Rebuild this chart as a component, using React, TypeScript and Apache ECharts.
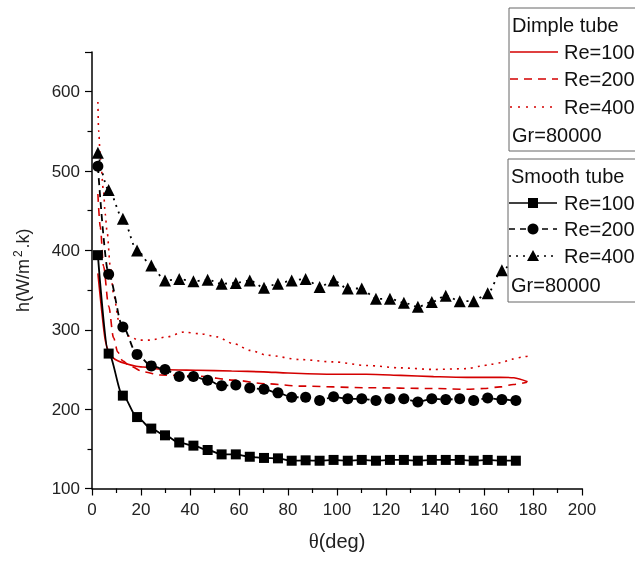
import React, { useEffect, useRef } from "react";
import * as echarts from "echarts";

// Smooth tube (black, with markers)
const thetaSmooth = [2.4, 6.8, 12.6, 18.4, 24.2, 29.8, 35.6, 41.4, 47.2, 52.9, 58.7, 64.4, 70.2, 75.9, 81.5, 87.2, 92.9, 98.6, 104.4, 110.1, 115.9, 121.6, 127.3, 133.0, 138.7, 144.4, 150.1, 155.8, 161.5, 167.3, 173.0];
const smooth100 = [394, 270, 217, 190, 175.5, 167, 158, 154, 148.5, 143, 143, 140, 138.5, 138, 135, 135.5, 135, 136, 135, 136, 135, 136, 136, 135, 136, 136, 136, 135, 136, 135, 135];
const smooth200 = [506, 370, 303.5, 269, 254.5, 250, 241, 241, 236.5, 229.5, 230.5, 226.5, 225, 220.5, 215, 215, 211, 215.5, 213, 213, 211, 213, 213, 209, 213, 212, 213, 211, 214, 212, 211];
const smooth400 = [523, 476, 440, 400, 381, 362, 364, 361, 363, 358, 359, 362, 353, 358, 362, 364, 354, 362, 352, 352, 339, 339, 334, 329, 335, 343, 336, 336, 346, 375, 392];

// Dimple tube (red, lines only)
const dimple100Theta = [2.4, 4.1, 5.4, 6.8, 8.5, 10.5, 13.6, 18, 21, 29, 43, 57, 70, 80, 98.6, 112, 126, 139.4, 153, 166.6, 172.2, 177.8];
const dimple100H = [371, 320, 287, 272, 265, 261, 257.5, 254, 253, 250, 249, 248, 247, 245.5, 244, 244, 242.5, 241, 240, 240, 239.5, 234.5];
const dimple200Theta = [2.4, 3.4, 4.7, 6.8, 8.8, 10.5, 12.5, 15.6, 21, 28, 44, 58, 71, 85, 112, 139, 153, 160, 166.6, 172, 177.5];
const dimple200H = [471, 429, 380, 330, 290, 272, 261, 254, 247, 243, 241.5, 236.5, 232, 229, 227, 226, 225, 226, 228, 231, 234];
const dimple400Theta = [2.4, 2.7, 3.4, 4.7, 5.4, 6.1, 7.5, 8.8, 10.9, 12.9, 15, 19, 23.8, 30.6, 37.4, 44.2, 51, 57.8, 64.6, 71.4, 85, 98.6, 112.2, 125.9, 139.4, 153, 158.5, 162.6, 166.9, 171.4, 176.2, 177.8];
const dimple400H = [587, 551, 517, 475, 446, 425, 379, 345, 312, 299, 292, 287, 287, 291, 297, 295, 291, 282.5, 274, 268, 262.5, 259.5, 255, 252, 250, 251, 254, 256.5, 258.5, 263, 266, 266.7];

const legendDimple = ["Re=100", "Re=200", "Re=400"];
const legendSmooth = ["Re=100", "Re=200", "Re=400"];

const RED = "#d40000";
const SANS = "'Liberation Sans', Arial, sans-serif";

const zip = (xs: number[], ys: number[]) => xs.map((x, i) => [x, ys[i]]);

export default function App() {
  const ref = useRef<HTMLDivElement>(null);
  useEffect(() => {
    if (!ref.current) return;
    const chart = echarts.init(ref.current, undefined, { renderer: "svg" });
    const lx = 509;
    const ltx = 564;
    const dRows = [52, 79, 107];
    const sRows = [203, 229, 256];
    const textStyle = (x: number, y: number, t: string) => ({
      type: "text",
      z: 101,
      style: { x, y, text: t, fill: "#111", font: `20px ${SANS}`, verticalAlign: "middle", align: "left" },
    });
    const dashes = [null, [8, 6], [2, 6]];
    const sDashes = [null, [6, 5], [2, 5]];
    const graphics: any[] = [
      { type: "rect", z: 100, shape: { x: 509, y: 8, width: 140, height: 143 }, style: { fill: "#fff", stroke: "#666", lineWidth: 1 } },
      { type: "rect", z: 100, shape: { x: 508, y: 159, width: 140, height: 143 }, style: { fill: "#fff", stroke: "#666", lineWidth: 1 } },
      textStyle(512, 25, "Dimple tube"),
      textStyle(512, 135, "Gr=80000"),
      textStyle(511, 176, "Smooth tube"),
      textStyle(511, 285, "Gr=80000"),
    ];
    legendDimple.forEach((t, i) => {
      graphics.push(textStyle(ltx, dRows[i], t));
      graphics.push({
        type: "line", z: 101,
        shape: { x1: lx + 1, y1: dRows[i], x2: 558, y2: dRows[i] },
        style: { stroke: RED, lineWidth: 1.6, lineDash: dashes[i] || undefined },
      });
    });
    legendSmooth.forEach((t, i) => {
      graphics.push(textStyle(ltx, sRows[i], t));
      graphics.push({
        type: "line", z: 101,
        shape: { x1: lx, y1: sRows[i], x2: 557, y2: sRows[i] },
        style: { stroke: "#000", lineWidth: 1.6, lineDash: sDashes[i] || undefined },
      });
    });
    graphics.push({ type: "rect", z: 102, shape: { x: 528, y: sRows[0] - 5, width: 10, height: 10 }, style: { fill: "#000" } });
    graphics.push({ type: "circle", z: 102, shape: { cx: 533, cy: sRows[1], r: 5.5 }, style: { fill: "#000" } });
    graphics.push({ type: "polygon", z: 102, shape: { points: [[533, sRows[2] - 6], [539, sRows[2] + 5], [527, sRows[2] + 5]] }, style: { fill: "#000" } });

    const axisFont = { fontFamily: SANS, fontSize: 17, color: "#222" };
    chart.setOption({
      animation: false,
      grid: { left: 92, right: 53, top: 52, bottom: 73.5, containLabel: false },
      xAxis: {
        type: "value",
        min: 0,
        max: 200,
        interval: 20,
        name: "{t|θ}{a|(deg)}",
        nameLocation: "middle",
        nameGap: 42,
        nameTextStyle: {
          rich: {
            t: { fontFamily: "'Liberation Serif', serif", fontSize: 21, color: "#222" },
            a: { fontFamily: SANS, fontSize: 20, color: "#222" },
          },
        },
        axisLine: { show: true, lineStyle: { color: "#000", width: 1.5 } },
        axisTick: { show: true, inside: false, length: 7, lineStyle: { color: "#000", width: 1.2 } },
        minorTick: { show: true, splitNumber: 2, length: 4.5, lineStyle: { color: "#000", width: 1.2 } },
        splitLine: { show: false },
        axisLabel: { ...axisFont, margin: 12 },
      },
      yAxis: {
        type: "value",
        min: 100,
        max: 650,
        interval: 100,
        name: "{a|h(W/m}{s|2}{a|.k)}",
        nameLocation: "middle",
        nameGap: 58,
        nameTextStyle: {
          rich: {
            a: { fontFamily: SANS, fontSize: 18, color: "#222", lineHeight: 22 },
            s: { fontFamily: SANS, fontSize: 12, color: "#222", verticalAlign: "top", lineHeight: 22, padding: [0, 2, 0, 2] },
          },
        },
        axisLine: { show: true, lineStyle: { color: "#000", width: 1.5 } },
        axisTick: { show: true, inside: false, length: 7, lineStyle: { color: "#000", width: 1.2 } },
        minorTick: { show: true, splitNumber: 2, length: 4.5, lineStyle: { color: "#000", width: 1.2 } },
        splitLine: { show: false },
        axisLabel: { ...axisFont, margin: 12, formatter: (v: number) => (v % 100 === 0 ? String(v) : "") },
      },
      series: [
        {
          type: "line", name: "Dimple Re=100", data: zip(dimple100Theta, dimple100H),
          showSymbol: false, smooth: 0.3,
          lineStyle: { color: RED, width: 1.6 }, z: 3,
        },
        {
          type: "line", name: "Dimple Re=200", data: zip(dimple200Theta, dimple200H),
          showSymbol: false, smooth: 0.3, smoothMonotone: "x",
          lineStyle: { color: RED, width: 1.6, type: [8, 6] }, z: 3,
        },
        {
          type: "line", name: "Dimple Re=400", data: zip(dimple400Theta, dimple400H),
          showSymbol: false, smooth: 0.3, smoothMonotone: "x",
          lineStyle: { color: RED, width: 1.6, type: [2, 5] }, z: 3,
        },
        {
          type: "line", name: "Smooth Re=100", data: zip(thetaSmooth, smooth100),
          symbol: "rect", symbolSize: 10, smooth: 0.3, smoothMonotone: "x",
          itemStyle: { color: "#000" }, lineStyle: { color: "#000", width: 1.8 }, z: 4,
        },
        {
          type: "line", name: "Smooth Re=200", data: zip(thetaSmooth, smooth200),
          symbol: "circle", symbolSize: 11, smooth: 0.3, smoothMonotone: "x",
          itemStyle: { color: "#000" }, lineStyle: { color: "#000", width: 1.8, type: [7, 5] }, z: 4,
        },
        {
          type: "line", name: "Smooth Re=400", data: zip(thetaSmooth, smooth400),
          symbol: "triangle", symbolSize: 12, smooth: 0.3, smoothMonotone: "x",
          itemStyle: { color: "#000" }, lineStyle: { color: "#000", width: 1.8, type: [2, 5] }, z: 4,
        },
      ],
      graphic: graphics,
    });
    return () => chart.dispose();
  }, []);
  return <div ref={ref} style={{ position: "fixed", left: 0, top: 0, width: 635, height: 562 }} />;
}
